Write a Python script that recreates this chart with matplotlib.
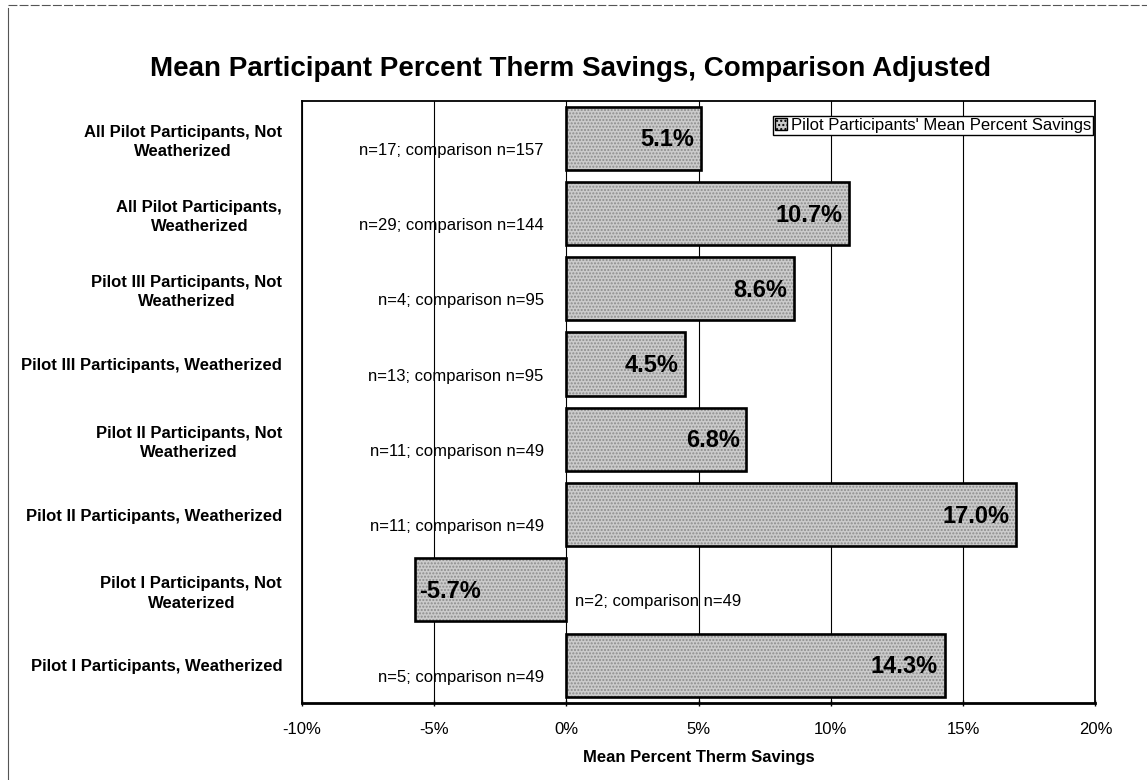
import matplotlib
matplotlib.use("Agg")
import matplotlib.pyplot as plt
from matplotlib.patches import Patch
from matplotlib.lines import Line2D
from matplotlib.ticker import FuncFormatter

plt.rcParams['font.family'] = ['Liberation Sans', 'DejaVu Sans']

# groups listed top to bottom
groups = [
    "All Pilot Participants, Not\nWeatherized",
    "All Pilot Participants,\nWeatherized",
    "Pilot III Participants, Not\nWeatherized",
    "Pilot III Participants, Weatherized",
    "Pilot II Participants, Not\nWeatherized",
    "Pilot II Participants, Weatherized",
    "Pilot I Participants, Not\nWeaterized",
    "Pilot I Participants, Weatherized",
]
savings = [5.1, 10.7, 8.6, 4.5, 6.8, 17.0, -5.7, 14.3]
sample_notes = [
    "n=17; comparison n=157",
    "n=29; comparison n=144",
    "n=4; comparison n=95",
    "n=13; comparison n=95",
    "n=11; comparison n=49",
    "n=11; comparison n=49",
    "n=2; comparison n=49",
    "n=5; comparison n=49",
]
x_ticks = [-10, -5, 0, 5, 10, 15, 20]

fig = plt.figure(figsize=(11.47, 7.8), dpi=100)
ax = fig.add_axes([0.263, 0.099, 0.692, 0.772])

ypos = list(range(len(groups)))
bar_h = 0.84

# grey stipple: flat fill, dotted hatch on top, black outline last
ax.barh(ypos, savings, height=bar_h, color='#cbcbcb', edgecolor='none', zorder=2)
ax.barh(ypos, savings, height=bar_h, color='none', edgecolor='#8c8c8c',
        hatch='.....', linewidth=0, zorder=2)
ax.barh(ypos, savings, height=bar_h, color='none', edgecolor='black',
        linewidth=1.9, zorder=3)

for y, v, note in zip(ypos, savings, sample_notes):
    if v >= 0:
        ax.text(v - 0.25, y + 0.02, f"{v:.1f}%", ha='right', va='center',
                fontsize=17, fontweight='bold', zorder=4)
        ax.text(-0.85, y + 0.16, note, ha='right', va='center', fontsize=12, zorder=4)
    else:
        ax.text(v + 0.15, y + 0.02, f"{v:.1f}%", ha='left', va='center',
                fontsize=17, fontweight='bold', zorder=4)
        ax.text(0.35, y + 0.16, note, ha='left', va='center', fontsize=12, zorder=4)

ax.set_xlim(-10, 20)
ax.set_ylim(len(groups) - 0.5, -0.5)
ax.set_xticks(x_ticks)
ax.xaxis.set_major_formatter(FuncFormatter(lambda v, p: f"{v:.0f}%"))
ax.tick_params(axis='x', labelsize=12, length=4, width=1, pad=12, direction='inout')
ax.grid(axis='x', color='black', linewidth=0.8, zorder=1)

ax.set_yticks(ypos)
ax.set_yticklabels(groups, fontsize=12, fontweight='bold', multialignment='center',
                   linespacing=1.35)
ax.tick_params(axis='y', length=0, pad=14)

for side in ax.spines.values():
    side.set_linewidth(1.3)
ax.spines['bottom'].set_linewidth(2)

ax.set_xlabel("Mean Percent Therm Savings", fontsize=12, fontweight='bold', labelpad=9)

handle = Patch(facecolor='#cbcbcb', edgecolor='black', hatch='....', linewidth=1)
ax.legend([handle], ["Pilot Participants' Mean Percent Savings"], loc='upper right',
          bbox_to_anchor=(0.997, 0.975), fontsize=12, frameon=True, fancybox=False,
          edgecolor='black', framealpha=1, borderpad=0.12, handlelength=0.7,
          handleheight=0.7, handletextpad=0.25, borderaxespad=0)

fig.text(0.497, 0.912, "Mean Participant Percent Therm Savings, Comparison Adjusted",
         ha='center', va='center', fontsize=20, fontweight='bold')

# page frame lines
fig.add_artist(Line2D([0.007, 0.007], [0.0, 0.99], color='#555555', linewidth=0.8))
fig.add_artist(Line2D([0.007, 1.0], [0.994, 0.994], color='#555555', linewidth=0.8,
                      linestyle=(0, (8, 2))))

fig.savefig("out.png", dpi=100)
